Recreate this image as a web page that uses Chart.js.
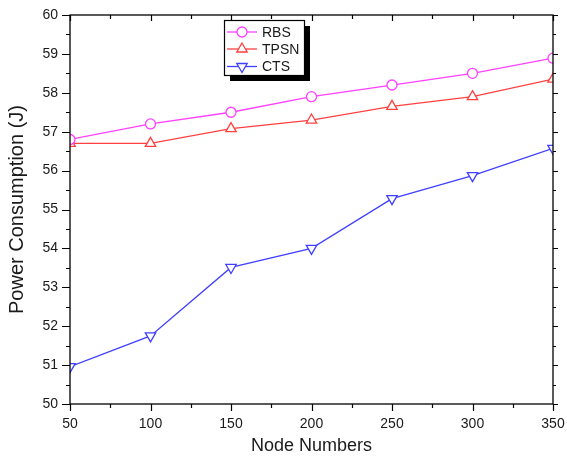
<!DOCTYPE html>
<html><head><meta charset="utf-8">
<script src="https://cdn.jsdelivr.net/npm/chart.js@4/dist/chart.umd.min.js"></script>
<style>html,body{margin:0;padding:0;background:#fff}#wrap{width:567px;height:466px}</style>
</head><body><div id="wrap"><canvas id="c" width="567" height="466"></canvas></div>
<script>
const nodeNumbers = [50, 100, 150, 200, 250, 300, 350];
const rbs  = [56.8, 57.2, 57.5, 57.9, 58.2, 58.5, 58.89];
const tpsn = [56.7, 56.7, 57.08, 57.3, 57.65, 57.9, 58.35];
const cts  = [50.96, 51.75, 53.51, 54.0, 55.28, 55.87, 56.57];
const seriesNames = ['RBS', 'TPSN', 'CTS'];
const xTicks = [50, 100, 150, 200, 250, 300, 350];
const yTicks = [50, 51, 52, 53, 54, 55, 56, 57, 58, 59, 60];

const FONT = "'Liberation Sans', Arial, sans-serif";
const TXT = '#1a1a1a';

const colors = ['#ff40ff', '#ff4040', '#4040ff'];
const styles = ['circle', 'triangle', 'triangle'];
const rotations = [0, 0, 180];
const radii = [5, 6, 6];
const seriesValues = [rbs, tpsn, cts];

const datasets = seriesNames.map((name, i) => ({
  label: name,
  data: nodeNumbers.map((x, j) => ({x: x, y: seriesValues[i][j]})),
  borderColor: colors[i],
  backgroundColor: '#ffffff',
  borderWidth: 1.3,
  pointStyle: styles[i],
  pointRotation: rotations[i],
  pointRadius: radii[i],
  pointBorderWidth: 1.3,
  pointBorderColor: colors[i],
  pointBackgroundColor: '#ffffff',
  tension: 0,
  clip: 0
}));

function drawMarker(ctx, style, rot, r, x, y, color) {
  ctx.save();
  ctx.strokeStyle = color; ctx.fillStyle = '#fff'; ctx.lineWidth = 1.3;
  ctx.beginPath();
  if (style === 'circle') {
    ctx.arc(x, y, r, 0, Math.PI * 2);
  } else {
    const a0 = (rot - 90) * Math.PI / 180;
    for (let k = 0; k < 3; k++) {
      const a = a0 + k * 2 * Math.PI / 3;
      const px = x + Math.cos(a) * r, py = y + Math.sin(a) * r;
      if (k === 0) ctx.moveTo(px, py); else ctx.lineTo(px, py);
    }
    ctx.closePath();
  }
  ctx.fill(); ctx.stroke();
  ctx.restore();
}

const framePlugin = {
  id: 'frame',
  afterDatasetsDraw(chart) {
    const ctx = chart.ctx, a = chart.chartArea;
    const xs = chart.scales.x, ys = chart.scales.y;
    ctx.save();
    ctx.strokeStyle = '#000'; ctx.lineWidth = 1.3;
    ctx.strokeRect(a.left, a.top, a.right - a.left, a.bottom - a.top);
    ctx.lineWidth = 1.2;
    ctx.beginPath();
    for (let v = 50; v <= 350; v += 25) {
      const px = Math.round(xs.getPixelForValue(v)) + 0.5;
      const major = xTicks.includes(v);
      ctx.moveTo(px, a.bottom); ctx.lineTo(px, a.bottom + (major ? 7 : 4));
      ctx.moveTo(px, a.top); ctx.lineTo(px, a.top + (major ? 6 : 4));
    }
    for (let v = 50; v <= 60.001; v += 0.5) {
      const py = Math.round(ys.getPixelForValue(v)) + 0.5;
      const major = Math.abs(v - Math.round(v)) < 1e-6;
      ctx.moveTo(a.left, py); ctx.lineTo(a.left - (major ? 8 : 4), py);
      ctx.moveTo(a.right, py); ctx.lineTo(a.right + (major ? 5 : 3), py);
    }
    ctx.stroke();
    ctx.restore();
  },
  afterDraw(chart) {
    const ctx = chart.ctx;
    const bx = 224, by = 20, bw = 80, bh = 55;
    ctx.save();
    ctx.fillStyle = '#000';
    ctx.fillRect(bx + 6, by + 6, bw, bh);
    ctx.fillStyle = '#fff';
    ctx.fillRect(bx, by, bw, bh);
    ctx.strokeStyle = '#000'; ctx.lineWidth = 1.2;
    ctx.strokeRect(bx + 0.5, by + 0.5, bw, bh);
    const rows = [32, 49, 66.5];
    chart.data.datasets.forEach((ds, i) => {
      const y = rows[i];
      ctx.strokeStyle = ds.borderColor; ctx.lineWidth = 1.3;
      ctx.beginPath(); ctx.moveTo(227, y); ctx.lineTo(257, y); ctx.stroke();
      drawMarker(ctx, ds.pointStyle, ds.pointRotation, ds.pointRadius, 242, y, ds.borderColor);
      ctx.fillStyle = TXT;
      ctx.font = '14px ' + FONT;
      ctx.textBaseline = 'middle';
      ctx.textAlign = 'left';
      ctx.fillText(ds.label, 262, y + 1);
    });
    ctx.restore();
  }
};

new Chart(document.getElementById('c'), {
  type: 'line',
  data: { datasets: datasets },
  options: {
    responsive: false,
    devicePixelRatio: 1,
    animation: false,
    layout: { padding: { left: 0, right: 14, top: 15, bottom: 0 } },
    plugins: { legend: { display: false }, tooltip: { enabled: false } },
    scales: {
      x: {
        type: 'linear', min: 50, max: 350,
        grid: { display: true, drawOnChartArea: false, drawTicks: true, tickLength: 12, color: 'rgba(0,0,0,0)' },
        border: { display: false },
        afterBuildTicks(s) { s.ticks = xTicks.map(v => ({value: v})); },
        afterFit(s) { s.height = 62; },
        ticks: { padding: 0, color: TXT, font: { family: FONT, size: 14 }, maxRotation: 0, autoSkip: false },
        title: { display: true, text: 'Node Numbers', color: TXT, font: { family: FONT, size: 18 }, padding: { top: 0, bottom: 9 } }
      },
      y: {
        type: 'linear', min: 50, max: 60,
        grid: { display: true, drawOnChartArea: false, drawTicks: true, tickLength: 12, color: 'rgba(0,0,0,0)' },
        border: { display: false },
        afterBuildTicks(s) { s.ticks = yTicks.map(v => ({value: v})); },
        afterFit(s) { s.width = 70; },
        ticks: { padding: 0, color: TXT, font: { family: FONT, size: 14 } },
        title: { display: true, text: 'Power Consumption (J)', color: TXT, font: { family: FONT, size: 20 }, padding: { top: 5, bottom: 0 } }
      }
    }
  },
  plugins: [framePlugin]
});
</script>
</body></html>
